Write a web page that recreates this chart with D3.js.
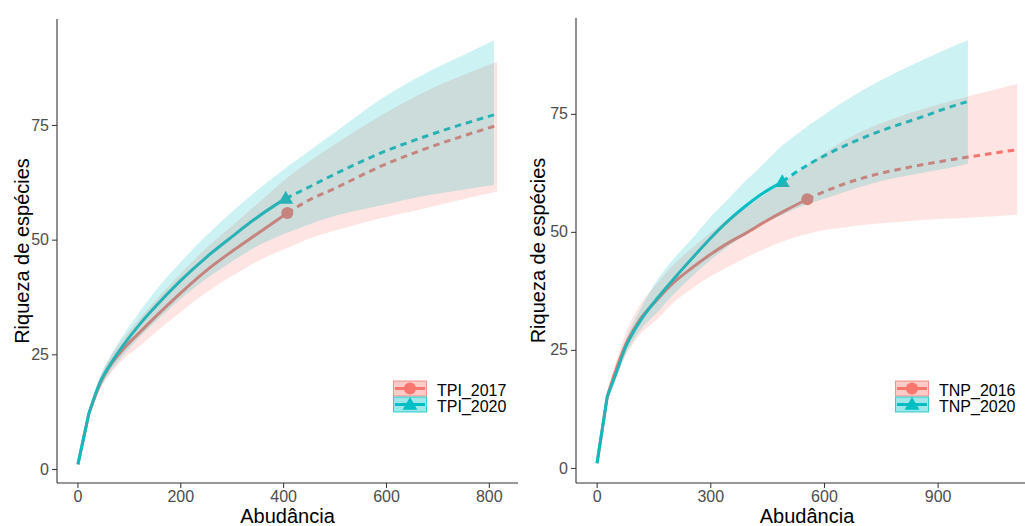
<!DOCTYPE html>
<html>
<head>
<meta charset="utf-8">
<script src="https://cdn.jsdelivr.net/npm/d3@7"></script>
<style>
  body { margin: 0; background: #fff; }
  svg { display: block; }
  text { font-family: "Liberation Sans", Arial, sans-serif; }
</style>
</head>
<body>
<svg id="chart" width="1025" height="526"></svg>
<script>
// ---------- left panel: TPI ----------
const tpiNames = ['TPI_2017', 'TPI_2020'];
const tpiRef = [408, 405]; // reference sample size (observed point)

const tpi2017N  = [1, 22, 44, 66, 88, 123, 150, 200, 250, 300, 350, 408, 450, 501, 588, 679, 750, 816];
const tpi2017S  = [1, 12, 18.6, 22.9, 26.0, 30.0, 33.0, 38.3, 43.2, 47.4, 51.3, 55.8, 58.6, 61.2, 65.9, 69.9, 72.6, 74.9];
const tpi2017Lo = [1, 11.2, 17.3, 21.0, 23.8, 27.0, 29.6, 34.2, 38.4, 42.0, 45.3, 48.2, 50.2, 52.0, 54.6, 56.9, 58.8, 60.5];
const tpi2017Hi = [1, 12.8, 20.0, 24.9, 28.3, 33.1, 36.5, 42.5, 48.1, 53.0, 57.8, 63.5, 67.0, 70.8, 76.9, 82.4, 85.9, 88.8];

const tpi2020N  = [1, 22, 44, 66, 88, 123, 150, 200, 250, 300, 350, 405, 433, 501, 588, 679, 750, 810];
const tpi2020S  = [1, 12, 18.9, 23.2, 26.8, 31.8, 35.2, 41.0, 46.1, 50.6, 54.9, 59.0, 60.5, 64.3, 68.8, 72.6, 75.2, 77.2];
const tpi2020Lo = [1, 11.2, 17.6, 21.5, 24.6, 29.0, 31.9, 37.0, 41.4, 45.2, 48.6, 51.4, 52.6, 55.2, 57.4, 59.6, 60.9, 61.9];
const tpi2020Hi = [1, 12.8, 20.2, 24.9, 29.0, 34.6, 38.6, 45.0, 50.8, 56.0, 60.8, 65.6, 67.9, 73.4, 80.5, 86.4, 90.2, 93.4];

const tpiXTicks = [0, 200, 400, 600, 800];
const tpiYTicks = [0, 25, 50, 75];

// ---------- right panel: TNP ----------
const tnpNames = ['TNP_2016', 'TNP_2020'];
const tnpRef = [556, 490];

const tnp2016N  = [1, 28, 50, 76, 110, 164, 200, 252, 300, 340, 400, 450, 500, 556, 600, 659, 720, 813, 900, 976, 1050, 1110];
const tnp2016S  = [1, 15.1, 20.5, 26.0, 30.9, 36.0, 39.0, 42.4, 45.2, 47.3, 50.0, 52.4, 54.6, 56.9, 58.5, 60.3, 61.8, 63.5, 64.8, 65.8, 66.7, 67.4];
const tnp2016Lo = [1, 14.0, 18.9, 23.6, 27.8, 31.8, 34.8, 38.0, 40.6, 42.3, 44.8, 46.6, 48.2, 49.6, 50.4, 51.0, 51.6, 52.2, 52.7, 53.0, 53.3, 53.6];
const tnp2016Hi = [1, 16.2, 22.1, 28.3, 33.9, 39.5, 42.8, 46.6, 49.8, 52.3, 55.4, 58.2, 61.0, 64.2, 66.6, 69.6, 72.0, 74.8, 76.9, 78.6, 80.1, 81.3];

const tnp2020N  = [1, 28, 50, 76, 110, 164, 200, 252, 300, 340, 400, 428, 490, 522, 615, 734, 861, 958, 980];
const tnp2020S  = [1, 15.1, 19.8, 25.5, 30.5, 36.3, 39.7, 44.4, 48.6, 51.8, 55.9, 57.6, 60.6, 62.4, 66.7, 70.9, 74.4, 77.1, 77.6];
const tnp2020Lo = [1, 14.2, 18.6, 24.0, 28.6, 33.3, 36.5, 40.6, 44.0, 46.5, 49.7, 51.2, 53.6, 54.8, 57.4, 60.4, 62.5, 64.0, 64.4];
const tnp2020Hi = [1, 16.0, 21.0, 27.0, 32.8, 40.3, 44.0, 48.6, 53.1, 56.4, 61.3, 63.4, 68.3, 70.3, 75.6, 81.4, 86.4, 89.9, 90.6];

const tnpXTicks = [0, 300, 600, 900];
const tnpYTicks = [0, 25, 50, 75];

const colors = ['#F8766D', '#00BFC4'];
const shapes = ['circle', 'triangle'];
const xTitle = 'Abudância';
const yTitle = 'Riqueza de espécies';

function makeSeries(names, refs, ns, ss, los, his) {
    return names.map((name, i) => ({
        name: name,
        color: colors[i],
        shape: shapes[i],
        ref: refs[i],
        pts: ns[i].map((n, j) => ({ n: n, s: ss[i][j], lo: los[i][j], hi: his[i][j] }))
    }));
}

const svg = d3.select('#chart');

function drawMarker(g, shape, cx, cy, color) {
    if (shape === 'circle') {
        g.append('circle').attr('cx', cx).attr('cy', cy).attr('r', 6).attr('fill', color);
    } else {
        const sym = d3.symbol().type(d3.symbolTriangle).size(95);
        g.append('path').attr('d', sym()).attr('transform', `translate(${cx},${cy + 1})`).attr('fill', color);
    }
}

function drawPanel(cfg) {
    const x = d3.scaleLinear().domain(cfg.xDomain).range([cfg.left, cfg.right]);
    const y = d3.scaleLinear().domain(cfg.yDomain).range([cfg.bottom, cfg.top]);
    const g = svg.append('g');

    const smooth = acc => d3.line().x(d => x(d.n)).y(d => y(acc(d))).curve(d3.curveMonotoneX);
    const meanLine = smooth(d => d.s);
    const hiLine = smooth(d => d.hi);
    const loLine = smooth(d => d.lo);

    // the first step (n = 1 to the first knot) is straight, like iNEXT draws it
    function linePath(pts) {
        if (pts[0].n === 1) {
            return `M${x(pts[0].n)},${y(pts[0].s)}` + meanLine(pts.slice(1)).replace(/^M/, 'L');
        }
        return meanLine(pts);
    }
    function ribbonPath(pts) {
        const rest = pts.slice(1);
        const back = rest.slice().reverse();
        return `M${x(pts[0].n)},${y(pts[0].s)}` +
            hiLine(rest).replace(/^M/, 'L') +
            loLine(back).replace(/^M/, 'L') + 'Z';
    }

    // observed points
    cfg.series.forEach(sr => {
        const p = sr.pts.find(d => d.n === sr.ref);
        drawMarker(g, sr.shape, x(p.n), y(p.s), sr.color);
    });

    // rarefaction (solid) and extrapolation (dashed)
    cfg.series.forEach(sr => {
        g.append('path')
            .attr('d', linePath(sr.pts.filter(d => d.n <= sr.ref)))
            .attr('fill', 'none').attr('stroke', sr.color).attr('stroke-width', 3)
            .attr('stroke-linejoin', 'round');
        g.append('path')
            .attr('d', linePath(sr.pts.filter(d => d.n >= sr.ref)))
            .attr('fill', 'none').attr('stroke', sr.color).attr('stroke-width', 3)
            .attr('stroke-dasharray', '6.5,5');
    });

    // confidence ribbons on top
    cfg.series.forEach(sr => {
        g.append('path')
            .attr('d', ribbonPath(sr.pts))
            .attr('fill', sr.color).attr('fill-opacity', 0.2);
    });

    // axes
    const xAxis = g.append('g')
        .attr('transform', `translate(0,${cfg.bottom})`)
        .call(d3.axisBottom(x).tickValues(cfg.xTicks).tickSize(5).tickPadding(3).tickSizeOuter(0));
    const yAxis = g.append('g')
        .attr('transform', `translate(${cfg.left},0)`)
        .call(d3.axisLeft(y).tickValues(cfg.yTicks).tickSize(5).tickPadding(3).tickSizeOuter(0));
    [xAxis, yAxis].forEach(ax => {
        ax.select('.domain').remove();
        ax.selectAll('line').attr('stroke', '#333');
        ax.selectAll('text').attr('fill', '#4D4D4D').attr('font-size', 16)
            .attr('font-family', '"Liberation Sans", Arial, sans-serif');
    });
    g.append('line').attr('x1', cfg.left).attr('x2', cfg.right)
        .attr('y1', cfg.bottom).attr('y2', cfg.bottom).attr('stroke', '#333').attr('stroke-width', 1.1);
    g.append('line').attr('x1', cfg.left).attr('x2', cfg.left)
        .attr('y1', cfg.top).attr('y2', cfg.bottom).attr('stroke', '#333').attr('stroke-width', 1.1);

    // axis titles (the bottom title sits against the picture edge in the original too)
    g.append('text')
        .attr('x', (cfg.left + cfg.right) / 2).attr('y', 523)
        .attr('text-anchor', 'middle').attr('font-size', 20).attr('fill', '#000')
        .text(xTitle);
    g.append('text')
        .attr('transform', `translate(${cfg.yTitleX},${(cfg.top + cfg.bottom) / 2}) rotate(-90)`)
        .attr('text-anchor', 'middle').attr('font-size', 20).attr('fill', '#000')
        .text(yTitle);

    // legend
    const lg = g.append('g');
    cfg.series.forEach((sr, i) => {
        const ky = cfg.legendY + i * 16;
        lg.append('rect')
            .attr('x', cfg.legendX + 0.5).attr('y', ky + 0.5).attr('width', 33).attr('height', 15)
            .attr('fill', sr.color).attr('fill-opacity', 0.38)
            .attr('stroke', sr.color).attr('stroke-opacity', 0.75);
        lg.append('line')
            .attr('x1', cfg.legendX + 2).attr('x2', cfg.legendX + 32)
            .attr('y1', ky + 8).attr('y2', ky + 8)
            .attr('stroke', sr.color).attr('stroke-width', 3);
        drawMarker(lg, sr.shape, cfg.legendX + 17, ky + 8, sr.color);
        lg.append('text')
            .attr('x', cfg.legendX + 44).attr('y', ky + 15)
            .attr('font-size', 16).attr('fill', '#000')
            .text(sr.name);
    });
}

drawPanel({
    left: 57, right: 518, top: 19, bottom: 483,
    xDomain: [-39.75, 856.75], yDomain: [-3.05, 98.1],
    xTicks: tpiXTicks, yTicks: tpiYTicks,
    yTitleX: 29, legendX: 393, legendY: 380.5,
    series: makeSeries(tpiNames, tpiRef,
        [tpi2017N, tpi2020N], [tpi2017S, tpi2020S], [tpi2017Lo, tpi2020Lo], [tpi2017Hi, tpi2020Hi])
});

drawPanel({
    left: 576, right: 1038, top: 18, bottom: 483,
    xDomain: [-54.5, 1165], yDomain: [-3.2, 95.3],
    xTicks: tnpXTicks, yTicks: tnpYTicks,
    yTitleX: 545, legendX: 895, legendY: 380.5,
    series: makeSeries(tnpNames, tnpRef,
        [tnp2016N, tnp2020N], [tnp2016S, tnp2020S], [tnp2016Lo, tnp2020Lo], [tnp2016Hi, tnp2020Hi])
});
</script>
</body>
</html>
